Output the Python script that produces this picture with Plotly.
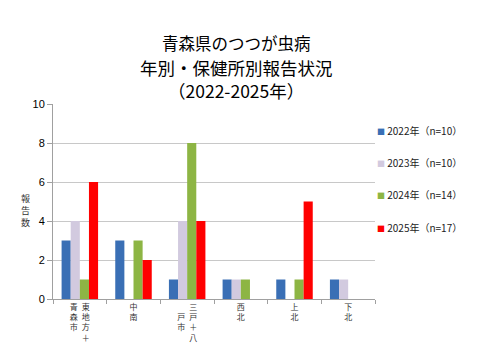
import plotly.graph_objects as go

categories = ["東地方+青森市", "中南", "三戸+八戸市", "西北", "上北", "下北"]
S = "\u2002"
tick_labels = [f"青{S}東<br>森{S}地<br>市{S}方<br>　{S}＋", "中<br>南",
               f"　{S}三<br>戸{S}戸<br>市{S}＋<br>　{S}八", "西<br>北", "上<br>北", "下<br>北"]
series_names = ["2022年（n=10）", "2023年（n=10）", "2024年（n=14）", "2025年（n=17）"]
values_2022 = [3, 3, 1, 1, 1, 1]
values_2023 = [4, 0, 4, 1, 0, 1]
values_2024 = [1, 3, 8, 1, 1, 0]
values_2025 = [6, 2, 4, 0, 5, 0]
title_lines = ["青森県のつつが虫病", "年別・保健所別報告状況", "（2022-2025年）"]
y_title = "報告数"
colors = ["#3A6FB5", "#D2CADF", "#8DB544", "#FF0000"]

font = "Noto Sans CJK JP, sans-serif"
# plot area in the screenshot: x 53..375, y 104..299 (page has an 8px body margin)
PX0, PX1, PY0, PY1 = 53, 375, 104, 299


def px_x(x):
    return (x - PX0) / (PX1 - PX0)


def px_y(y):
    return (PY1 - y) / (PY1 - PY0)


fig = go.Figure()
for name, vals, c in zip(series_names, [values_2022, values_2023, values_2024, values_2025], colors):
    fig.add_trace(go.Bar(x=categories, y=vals, name=name, showlegend=False,
                         marker=dict(color=c, line=dict(width=0))))

fig.update_layout(
    width=472, height=352,
    margin=dict(l=45, r=105, t=96, b=61, autoexpand=False),
    paper_bgcolor="white", plot_bgcolor="white",
    barmode="group", bargap=0.32, bargroupgap=0,
    font=dict(family=font, color="#000000"),
    showlegend=False,
)

# title
for line, ypx, fs in zip(title_lines, [43, 67, 90], [16.5, 17.5, 17.5]):
    fig.add_annotation(text=line, xref="paper", yref="paper",
                       x=px_x(236), y=px_y(ypx),
                       showarrow=False, xanchor="center", yanchor="middle",
                       font=dict(size=fs, family=font, color="#000000"))

# legend (marker glyph + label)
for name, c, ypx in zip(series_names, colors, [130, 162, 194, 227]):
    fig.add_annotation(text=f"<span style='color:{c};font-size:8px'>■</span> {name}",
                       xref="paper", yref="paper", x=px_x(375), y=px_y(ypx),
                       showarrow=False, xanchor="left", yanchor="middle",
                       font=dict(size=10, family=font, color="#222222"))

fig.update_xaxes(tickvals=categories, ticktext=tick_labels, tickangle=0, automargin=False,
                 tickfont=dict(size=8, family=font, color="#333333"),
                 showline=True, linecolor="#A0A0A0", linewidth=1,
                 ticks="outside", tickson="boundaries", ticklen=4, tickcolor="#A0A0A0",
                 showgrid=False)
fig.update_yaxes(range=[0, 10], dtick=2, showgrid=True, gridcolor="#C8C8C8", gridwidth=1,
                 showline=True, linecolor="#A0A0A0", linewidth=1, automargin=False,
                 ticks="outside", ticklen=5, tickcolor="#A0A0A0",
                 tickfont=dict(size=11, family="Liberation Sans, sans-serif", color="#000000"),
                 zeroline=False)

# vertical y-axis title, one upright character per line
for k, ch in enumerate(y_title):
    fig.add_annotation(text=ch, xref="paper", yref="paper", x=px_x(25), y=px_y(198 + 12 * k),
                       showarrow=False, font=dict(size=9, family=font, color="#333333"),
                       xanchor="center", yanchor="middle", borderpad=0)

fig.write_html("out.html")
